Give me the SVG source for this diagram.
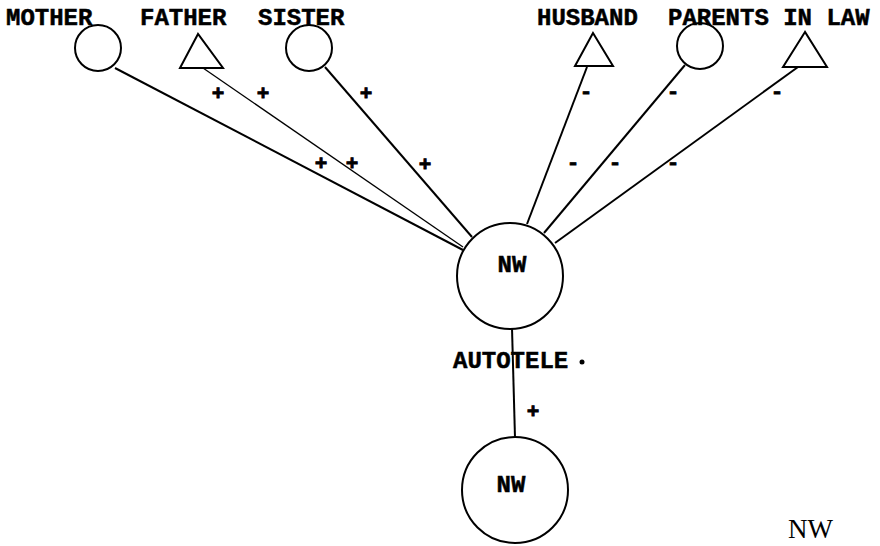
<svg xmlns="http://www.w3.org/2000/svg" width="880" height="546" viewBox="0 0 880 546">
<style>
.bg{fill:#fff}
.shape{fill:none;stroke:#000;stroke-width:2}
.edge{stroke:#000;stroke-width:2;fill:none}
.thin{stroke:#000;stroke-width:1.3;fill:none}
.lbl{font-family:"Liberation Mono","DejaVu Sans Mono",monospace;font-weight:bold;font-size:24px;fill:#000;stroke:#000;stroke-width:0.5}
.sign{font-family:"Liberation Mono","DejaVu Sans Mono",monospace;font-weight:bold;font-size:21px;fill:#000;stroke:#000;stroke-width:0.8;text-anchor:middle}
.serif{font-family:"Liberation Serif","DejaVu Serif",serif;font-size:27px;fill:#000}
</style>
<rect class="bg" x="0" y="0" width="880" height="546"/>
<g id="connectors">
<line class="edge" x1="115" y1="68" x2="463" y2="250"/>
<line class="thin" x1="203" y1="68" x2="463" y2="247"/>
<line class="edge" x1="325" y1="67" x2="472" y2="237"/>
<line class="edge" x1="587" y1="67" x2="527" y2="224"/>
<line class="edge" x1="685" y1="65" x2="544" y2="233"/>
<line class="edge" x1="798" y1="67" x2="555" y2="243"/>
<line class="edge" x1="512" y1="328" x2="515" y2="438"/>
</g>
<g id="signs">
<text class="sign" x="218" y="100">+</text>
<text class="sign" x="263" y="100">+</text>
<text class="sign" x="366" y="100">+</text>
<text class="sign" x="321" y="170">+</text>
<text class="sign" x="352" y="170">+</text>
<text class="sign" x="425" y="171">+</text>
<text class="sign" x="586" y="98">-</text>
<text class="sign" x="673" y="98">-</text>
<text class="sign" x="777" y="98">-</text>
<text class="sign" x="573" y="169">-</text>
<text class="sign" x="615" y="169">-</text>
<text class="sign" x="673" y="169">-</text>
<text class="sign" x="533" y="418">+</text>
</g>
<g id="mother">
<circle class="shape" cx="98" cy="48" r="23"/>
<text class="lbl" x="6" y="25">MOTHER</text>
</g>
<g id="father">
<polygon class="shape" points="198,34 180,68 223,68"/>
<text class="lbl" x="140" y="25">FATHER</text>
</g>
<g id="sister">
<circle class="shape" cx="309" cy="48" r="23"/>
<text class="lbl" x="258" y="25">SISTER</text>
</g>
<g id="husband">
<polygon class="shape" points="593,33 575,66 613,66"/>
<text class="lbl" x="537" y="25">HUSBAND</text>
</g>
<g id="parents-in-law-mother">
<circle class="shape" cx="700" cy="46" r="23"/>
<text class="lbl" x="668" y="25">PARENTS IN LAW</text>
</g>
<g id="parents-in-law-father">
<polygon class="shape" points="805,32 783,67 827,67"/>
</g>
<g id="nw-top">
<circle class="shape" cx="510" cy="276" r="53"/>
<text class="lbl" x="512" y="272" text-anchor="middle">NW</text>
</g>
<g id="autotele-label">
<text class="lbl" x="453" y="368">AUTOTELE</text>
<circle cx="582" cy="362" r="2.5" fill="#000"/>
</g>
<g id="nw-bottom">
<circle class="shape" cx="515" cy="490" r="53"/>
<text class="lbl" x="511" y="492" text-anchor="middle">NW</text>
</g>
<text class="serif" x="788" y="538">NW</text>
</svg>
